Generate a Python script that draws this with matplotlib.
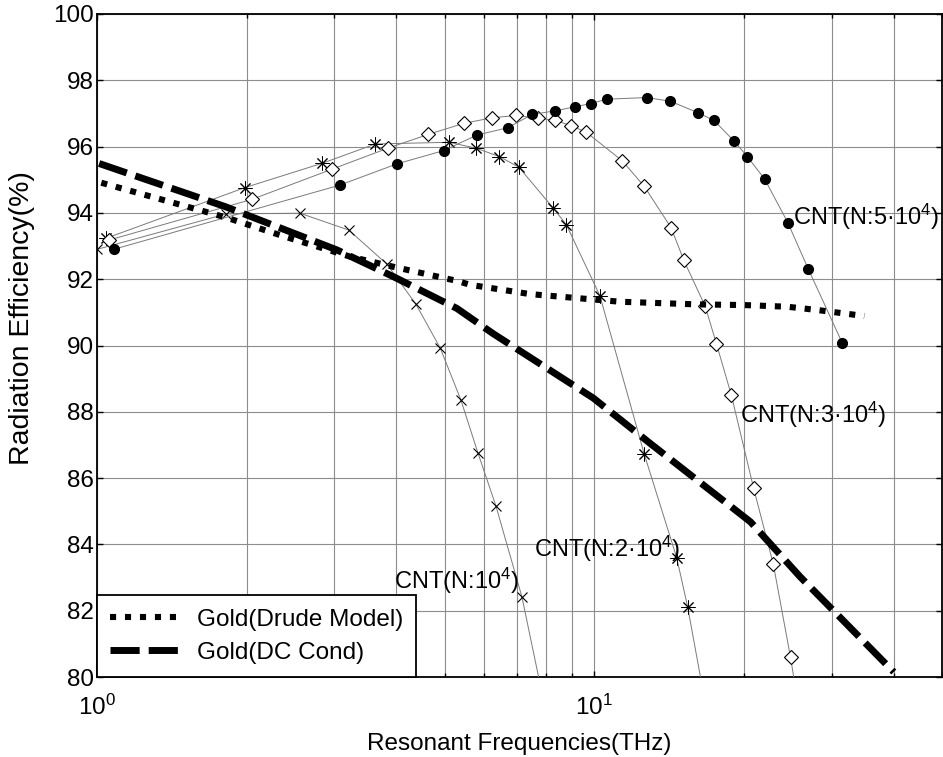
import matplotlib
matplotlib.use("Agg")
import matplotlib.pyplot as plt
from matplotlib.ticker import LogLocator, NullLocator

plt.rcParams['font.family'] = ['Liberation Sans', 'DejaVu Sans']
plt.rcParams['mathtext.fontset'] = 'custom'
plt.rcParams['mathtext.rm'] = 'Liberation Sans'
plt.rcParams['mathtext.it'] = 'Liberation Sans:italic'
plt.rcParams['mathtext.bf'] = 'Liberation Sans:bold'

# ---------------- data ----------------
cnt1_f = [1.0, 1.82, 2.56, 3.21, 3.83, 4.38, 4.90, 5.39, 5.83, 6.34, 7.15, 7.9]
cnt1_e = [92.9, 93.97, 93.99, 93.48, 92.45, 91.24, 89.92, 88.36, 86.77, 85.16, 82.42, 79.3]

cnt2_f = [1.041, 1.98, 2.84, 3.63, 5.11, 5.79, 6.44, 7.05, 8.25, 8.78, 10.26, 12.6, 14.64, 15.4, 16.9]
cnt2_e = [93.23, 94.76, 95.50, 96.08, 96.13, 95.95, 95.70, 95.38, 94.16, 93.65, 91.50, 86.72, 83.60, 82.12, 78.8]

cnt3_f = [1.057, 2.05, 2.97, 3.84, 4.64, 5.46, 6.23, 6.97, 7.71, 8.32, 8.98, 9.64, 11.38,
          12.6, 14.27, 15.13, 16.7, 17.6, 18.85, 20.9, 22.9, 24.8, 26.9]
cnt3_e = [93.18, 94.41, 95.32, 95.95, 96.37, 96.70, 96.87, 96.94, 96.85, 96.80, 96.63, 96.43, 95.57,
          94.80, 93.55, 92.57, 91.19, 90.05, 88.51, 85.70, 83.40, 80.59, 77.3]

cnt5_f = [1.08, 3.08, 4.01, 4.98, 5.81, 6.70, 7.50, 8.35, 9.13, 9.85, 10.58, 12.74, 14.2,
          16.17, 17.4, 19.11, 20.3, 22.0, 24.5, 26.9, 31.5]
cnt5_e = [92.90, 94.84, 95.48, 95.88, 96.35, 96.57, 96.97, 97.08, 97.20, 97.30, 97.43, 97.48, 97.37,
          97.02, 96.79, 96.16, 95.70, 95.02, 93.70, 92.32, 90.08]

drude_f = [1.02, 1.81, 2.39, 3.23, 4.01, 5.29, 5.63, 7.43, 11.27, 16.1, 20.0, 24.4, 28.1, 34.9]
drude_e = [94.91, 93.87, 93.28, 92.68, 92.35, 91.95, 91.83, 91.55, 91.32, 91.24, 91.22, 91.17, 91.07, 90.89]

dc_f = [1.01, 1.81, 3.04, 3.94, 5.29, 6.27, 9.96, 12.94, 20.6, 25.9, 40.0]
dc_e = [95.49, 94.19, 92.88, 92.08, 91.12, 90.35, 88.41, 87.05, 84.68, 83.03, 80.15]

legend_labels = ["Gold(Drude Model)", "Gold(DC Cond)"]
cnt_labels = ["CNT(N:10$^4$)", "CNT(N:2\u00b710$^4$)", "CNT(N:3\u00b710$^4$)", "CNT(N:5\u00b710$^4$)"]
label_pos = [(3.95, 82.90), (7.57, 83.85), (19.61, 87.90), (25.1, 93.89)]

yticks = [80, 82, 84, 86, 88, 90, 92, 94, 96, 98, 100]

# ---------------- figure ----------------
FS = 17.5
fig = plt.figure(figsize=(9.43, 7.57), dpi=100)
ax = fig.add_axes([97/943, 80/757, 845/943, 663/757])
ax.set_xscale('log')

line_gray = '#7a7a7a'
lw_thin = 0.7

ax.plot(cnt1_f, cnt1_e, color=line_gray, lw=lw_thin, marker='x', ms=6.5,
        mec='black', mew=0.8, zorder=3)
ax.plot(cnt2_f, cnt2_e, color=line_gray, lw=lw_thin, marker=(8, 2, 0), ms=10,
        mec='black', mew=0.7, zorder=3)
ax.plot(cnt3_f, cnt3_e, color=line_gray, lw=lw_thin, marker='D', ms=6.8,
        mec='black', mfc='white', mew=0.8, zorder=3)
ax.plot(cnt5_f, cnt5_e, color=line_gray, lw=lw_thin, marker='o', ms=7,
        mec='black', mfc='black', zorder=3)

l_drude, = ax.plot(drude_f, drude_e, color='black', lw=4.4, dashes=(1, 1.45),
                   dash_capstyle='butt', zorder=4, label=legend_labels[0])
l_dc, = ax.plot(dc_f, dc_e, color='black', lw=5.0, dashes=(4.2, 1.3),
                dash_capstyle='butt', zorder=4, label=legend_labels[1])

for txt, (xp, yp) in zip(cnt_labels, label_pos):
    ax.text(xp, yp, txt, fontsize=17, ha='left', va='center', zorder=5)

ax.set_xlim(1, 50)
ax.set_ylim(80, 100)
ax.set_yticks(yticks)
ax.yaxis.set_minor_locator(NullLocator())
ax.xaxis.set_major_locator(LogLocator(base=10, numticks=10))
ax.xaxis.set_minor_locator(LogLocator(base=10, subs=[2, 3, 4, 5, 6, 7, 8, 9], numticks=20))

ax.grid(True, which='major', axis='both', color='#8c8c8c', lw=0.8)
ax.grid(True, which='minor', axis='x', color='#8c8c8c', lw=0.8)
ax.set_axisbelow(True)

ax.tick_params(which='both', direction='in', top=True, right=True, labelsize=FS, width=1)
ax.tick_params(which='major', length=4)
ax.tick_params(which='minor', length=3)
ax.tick_params(axis='x', which='major', pad=13)
ax.tick_params(axis='y', which='major', pad=2)
for s in ax.spines.values():
    s.set_linewidth(1.3)
    s.set_color('black')

ax.set_xlabel("Resonant Frequencies(THz)", fontsize=FS, labelpad=9)
ax.set_ylabel("Radiation Efficiency(%)", fontsize=20.5, va='center')
ax.yaxis.set_label_coords((22 - 97) / 845, (677 - 318) / 663)

leg = ax.legend(handles=[l_drude, l_dc], loc='lower left', bbox_to_anchor=(0, 0),
                borderaxespad=0, fancybox=False, framealpha=1, edgecolor='black',
                fontsize=FS, handlelength=3.0, handletextpad=0.55, labelspacing=0.45,
                borderpad=0.55)
leg.get_frame().set_linewidth(1.3)
leg.set_zorder(10)

fig.savefig("out.png", dpi=100)
